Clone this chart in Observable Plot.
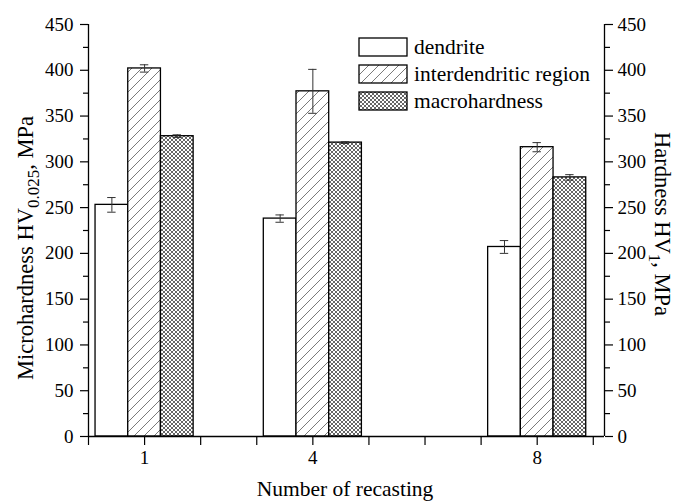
<!DOCTYPE html>
<html>
<head>
<meta charset="utf-8">
<script src="https://cdn.jsdelivr.net/npm/d3@7"></script>
<script src="https://cdn.jsdelivr.net/npm/@observablehq/plot@0.6"></script>
<style>
  html, body { margin: 0; padding: 0; background: #fff; }
  #chart { width: 675px; height: 501px; }
</style>
</head>
<body>
<div id="chart"></div>
<script>
// ---- data ----
const casts = [1, 4, 8];
const seriesNames = ["dendrite", "interdendritic region", "macrohardness"];
const dendrite = [253, 238, 207];
const dendriteErr = [8, 4, 7];
const interdendritic = [402, 377, 316];
const interdendriticErr = [4, 24, 5];
const macrohardness = [328, 321, 283];
const macrohardnessErr = [1.5, 1, 3];
const yTicks = [0, 50, 100, 150, 200, 250, 300, 350, 400, 450];
const yMinorTicks = [25, 75, 125, 175, 225, 275, 325, 375, 425];
const xTicks = [0, 1, 2, 3, 4, 5, 6, 7, 8, 9];
const xTickLabels = [1, 4, 8];

// ---- layout / style ----
const barW = 0.583;           // bar width in x units
const capHalf = 0.075;        // error cap half width in x units
const fills = ["white", "url(#hatchPat)", "url(#crossPat)"];
const valuesBySeries = [dendrite, interdendritic, macrohardness];
const errsBySeries = [dendriteErr, interdendriticErr, macrohardnessErr];

const rows = [];
seriesNames.forEach((s, si) => {
  casts.forEach((c, ci) => {
    const center = c + (si - 1) * barW;
    rows.push({
      series: s, si, cast: c, value: valuesBySeries[si][ci], err: errsBySeries[si][ci],
      x1: center - barW / 2, x2: center + barW / 2, xc: center
    });
  });
});

const font = "Liberation Serif";

const barMarks = seriesNames.map((s, si) =>
  Plot.rectY(rows.filter(r => r.si === si), {
    x1: "x1", x2: "x2", y1: 0, y2: "value",
    fill: fills[si], stroke: "black", strokeWidth: 1.3
  })
);

const chart = Plot.plot({
  width: 675,
  height: 501,
  marginLeft: 88,
  marginRight: 71,
  marginTop: 24,
  marginBottom: 65,
  style: { fontFamily: font, fontSize: "19px", background: "white", color: "black", overflow: "visible" },
  x: { domain: [0, 9.2], axis: null },
  y: { domain: [0, 450], axis: null },
  marks: [
    ...barMarks,
    // error bars
    Plot.ruleX(rows, { x: "xc", y1: d => d.value - d.err, y2: d => d.value + d.err, stroke: "#333", strokeWidth: 1 }),
    Plot.ruleY(rows, { y: d => d.value - d.err, x1: d => d.xc - capHalf, x2: d => d.xc + capHalf, stroke: "#333", strokeWidth: 1 }),
    Plot.ruleY(rows, { y: d => d.value + d.err, x1: d => d.xc - capHalf, x2: d => d.xc + capHalf, stroke: "#333", strokeWidth: 1 }),
    // axes lines
    Plot.ruleX([0], { stroke: "black", strokeWidth: 1.3 }),
    Plot.ruleX([9.2], { stroke: "black", strokeWidth: 1.3 }),
    Plot.ruleY([0], { stroke: "black", strokeWidth: 1.3 }),
    // left axis
    Plot.axisY({ anchor: "left", ticks: yMinorTicks, tickSize: 5, tickFormat: () => "", label: null, strokeWidth: 1.2 }),
    Plot.axisY({ anchor: "left", ticks: yTicks, tickSize: 8, tickPadding: 7, label: null, strokeWidth: 1.2, fontSize: 19 }),
    // right axis
    Plot.axisY({ anchor: "right", ticks: yMinorTicks, tickSize: 5, tickFormat: () => "", label: null, strokeWidth: 1.2 }),
    Plot.axisY({ anchor: "right", ticks: yTicks, tickSize: 8, tickPadding: 5, label: null, strokeWidth: 1.2, fontSize: 19 }),
    // x axis
    Plot.axisX({ ticks: xTicks, tickSize: 9, tickPadding: 5, tickFormat: d => xTickLabels.includes(d) ? String(d) : "", label: null, strokeWidth: 1.2, fontSize: 19 })
  ]
});

// ---- patterns, titles and legend ----
const svg = d3.select(chart);
const defs = svg.insert("defs", ":first-child");
const hatch = defs.append("pattern").attr("id", "hatchPat")
  .attr("patternUnits", "userSpaceOnUse").attr("width", 10).attr("height", 10);
hatch.append("rect").attr("width", 10).attr("height", 10).attr("fill", "white");
hatch.append("path").attr("d", "M0,10 L10,0 M-2,2 L2,-2 M8,12 L12,8")
  .attr("stroke", "#7a7a7a").attr("stroke-width", 1);
const cross = defs.append("pattern").attr("id", "crossPat")
  .attr("patternUnits", "userSpaceOnUse").attr("width", 4).attr("height", 4);
cross.append("rect").attr("width", 4).attr("height", 4).attr("fill", "white");
cross.append("path").attr("d", "M0,0 L4,4 M0,4 L4,0")
  .attr("stroke", "#555").attr("stroke-width", 0.9);

const xs = chart.scale("x"), ys = chart.scale("y");
const pLeft = xs.range[0], pRight = xs.range[1];
const pTop = ys.range[1], pBottom = ys.range[0];

function styled(sel, size, anchor) {
  return sel.attr("font-family", font).attr("font-size", size)
    .attr("text-anchor", anchor).attr("fill", "black");
}

// left title
const lt = styled(svg.append("text"), 22.5, "middle")
  .attr("transform", `translate(${pLeft - 55},${(pTop + pBottom) / 2 + 18}) rotate(-90)`);
lt.append("tspan").text("Microhardness HV");
lt.append("tspan").attr("font-size", 17).attr("dy", 6).text("0.025");
lt.append("tspan").attr("dy", -6).text(", MPa");

// right title
const rt = styled(svg.append("text"), 22.5, "middle")
  .attr("transform", `translate(${pRight + 51},${(pTop + pBottom) / 2 - 6}) rotate(90)`);
rt.append("tspan").text("Hardness HV");
rt.append("tspan").attr("font-size", 17).attr("dy", 6).text("1");
rt.append("tspan").attr("dy", -6).text(", MPa");

// bottom title
styled(svg.append("text"), 21.5, "middle")
  .attr("x", (pLeft + pRight) / 2 - 1).attr("y", pBottom + 60)
  .text("Number of recasting");

// legend
const lg = svg.append("g").attr("transform", `translate(${pLeft + 271},${pTop + 14})`);
seriesNames.forEach((s, i) => {
  const g = lg.append("g").attr("transform", `translate(0,${i * 27})`);
  g.append("rect").attr("width", 48).attr("height", 18)
    .attr("fill", fills[i]).attr("stroke", "black").attr("stroke-width", 1.3);
  styled(g.append("text"), 21.5, "start").attr("x", 55).attr("y", 9).attr("dy", "0.33em").text(s);
});

document.getElementById("chart").appendChild(chart);
</script>
</body>
</html>
